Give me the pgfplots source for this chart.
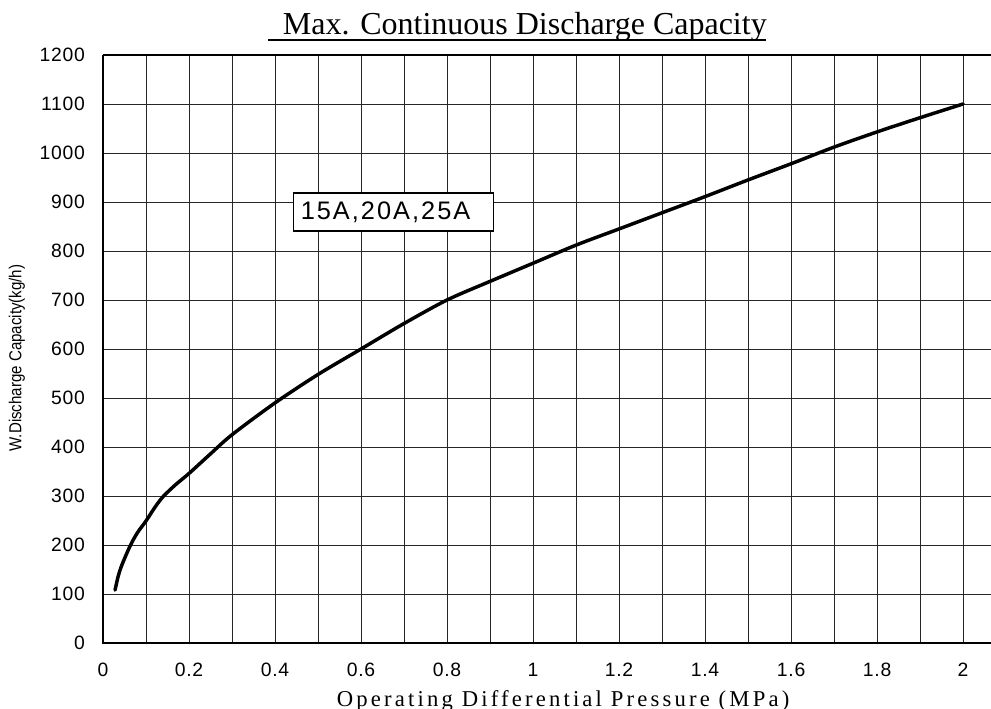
\documentclass[border=0pt]{standalone}
\usepackage{fontspec}
\setmainfont{Liberation Sans}
\newfontfamily\xlabfont[LetterSpace=14]{Liberation Serif}
\newfontfamily\titlefont{Liberation Serif}
\newfontfamily\tickfont[LetterSpace=4]{Liberation Sans}
\newfontfamily\boxfont[LetterSpace=8]{Liberation Sans}
\newfontfamily\ylabfont[FakeStretch=0.87]{Liberation Sans}
\usepackage{pgfplots}
\pgfplotsset{compat=1.18}
\begin{document}
\begin{tikzpicture}
\begin{axis}[
  at={(0,0)}, anchor=south west,
  scale only axis, width=666pt, height=441pt,
  xmin=0, xmax=2.065, ymin=0, ymax=1200,
  axis line style={draw=none},
  xtick={0,0.2,0.4,0.6,0.8,1,1.2,1.4,1.6,1.8,2},
  xticklabels={0,0.2,0.4,0.6,0.8,1,1.2,1.4,1.6,1.8,2},
  minor xtick={0.1,0.3,0.5,0.7,0.9,1.1,1.3,1.5,1.7,1.9},
  ytick={0,100,200,300,400,500,600,700,800,900,1000,1100,1200},
  yticklabels={0,100,200,300,400,500,600,700,800,900,1000,1100,1200},
  major tick length=0pt, minor tick length=0pt,
  grid=both,
  major grid style={black!85, line width=0.65pt},
  minor grid style={black!85, line width=0.65pt},
  /pgf/number format/assume math mode=true,
  tick label style={font=\tickfont\fontsize{14.5}{17}\selectfont},
  yticklabel style={anchor=east, xshift=-10pt},
  xticklabel style={anchor=north, yshift=-11.5pt},
  clip=false,
]
\addplot[black, line width=2.6pt, smooth, tension=0.5, line cap=round] coordinates {
(0.028,108) (0.035,135) (0.0434,158) (0.063,198) (0.08,225) (0.1,249)
(0.12,276) (0.14,299) (0.17,324) (0.2,346) (0.25,386) (0.3,425)
(0.4,490) (0.5,548) (0.6,600) (0.7,652) (0.8,700) (0.9,738) (1.0,775)
(1.1,812) (1.2,845) (1.3,878) (1.4,911) (1.5,945) (1.6,978) (1.7,1012)
(1.8,1043) (1.9,1072) (2.0,1100)
};
\draw[line width=1.5pt] (axis cs:0,1200) -- (axis cs:0,0) -- (axis cs:2.065,0);
\draw[line width=1.1pt] (axis cs:0,1200) -- (axis cs:2.065,1200);
\node[draw=black, line width=1.1pt, fill=white, anchor=west, inner xsep=5.25pt,
  minimum height=28.5pt, font=\boxfont\fontsize{19}{22}\selectfont]
  at (axis cs:0.4419,880) {15A,20A,25A\rule{12pt}{0pt}};
\node[anchor=base, font=\titlefont\fontsize{24}{28}\selectfont, inner sep=0pt]
  at (axis cs:0.981,1240.8) {Max. Continuous Discharge Capacity};
\draw[line width=1.5pt] (axis cs:0.384,1230.6) -- (axis cs:1.542,1230.6);
\node[anchor=base, font=\xlabfont\fontsize{17}{20}\selectfont, inner sep=0pt]
  at (axis cs:1.07,-128.6) {Operating Differential Pressure (MPa)};
\node[rotate=90, anchor=center, font=\ylabfont\fontsize{13}{15}\selectfont, inner sep=0pt]
  at (axis cs:-0.2,581.6) {W.Discharge Capacity(kg/h)};
\end{axis}
\pgfresetboundingbox
\useasboundingbox (-77.25pt,-49.5pt) rectangle (666pt,482.25pt);
\end{tikzpicture}
\end{document}
